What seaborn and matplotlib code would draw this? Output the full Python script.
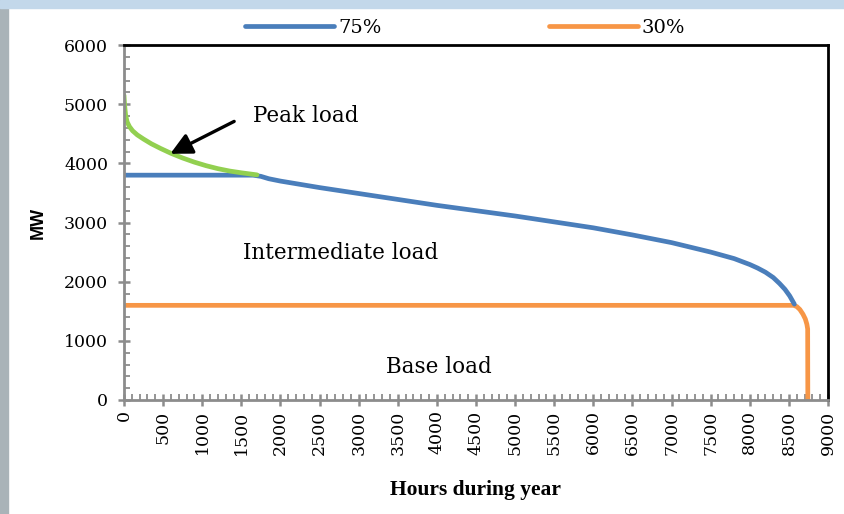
import matplotlib
matplotlib.use('Agg')
import matplotlib.pyplot as plt
import seaborn as sns
from matplotlib.lines import Line2D
from matplotlib.patches import Rectangle
from matplotlib.ticker import MultipleLocator

# load duration curve
green_hours = [0, 8, 20, 40, 70, 110, 170, 250, 350, 470, 600, 750, 900,
               1050, 1200, 1350, 1500, 1700]
green_mw = [5150, 4980, 4820, 4700, 4620, 4550, 4480, 4410, 4330, 4250,
            4170, 4090, 4020, 3960, 3910, 3870, 3840, 3805]

blue_hours = [0, 1650, 1750, 1850, 2000, 2500, 3000, 3500, 4000, 4500, 5000,
              5500, 6000, 6500, 7000, 7500, 7800, 8000, 8100, 8200, 8300,
              8380, 8450, 8510, 8570]
blue_mw = [3800, 3800, 3780, 3740, 3700, 3590, 3490, 3390, 3290, 3200, 3110,
           3010, 2910, 2790, 2660, 2500, 2390, 2290, 2230, 2160, 2070,
           1970, 1870, 1760, 1620]

orange_hours = [0, 8560, 8600, 8640, 8680, 8710, 8730, 8740, 8742]
orange_mw = [1600, 1600, 1580, 1530, 1450, 1370, 1280, 1200, 0]

legend_labels = ['75%', '30%']

sns.set_style('white')
plt.rcParams['font.family'] = ['DejaVu Serif']

fig = plt.figure(figsize=(8.45, 5.14), dpi=100)
fig.patch.set_facecolor('white')
# blurred screenshot border
fig.patches.append(Rectangle((0, 0), 8 / 845, 1, transform=fig.transFigure,
                             color='#a9b3b8', zorder=0))
fig.patches.append(Rectangle((0, 1 - 8 / 514), 1, 8 / 514, transform=fig.transFigure,
                             color='#c3d8ea', zorder=0))

ax = fig.add_axes([124 / 845, 1 - 400 / 514, 704 / 845, 355 / 514])

blue = '#4a7ebb'
orange = '#f79646'
green = '#92d050'

sns.lineplot(x=orange_hours, y=orange_mw, color=orange, lw=3.4, sort=False,
             estimator=None, ax=ax)
sns.lineplot(x=blue_hours, y=blue_mw, color=blue, lw=3.4, sort=False,
             estimator=None, ax=ax)
sns.lineplot(x=green_hours, y=green_mw, color=green, lw=3.4, sort=False,
             estimator=None, ax=ax)

ax.set_xlim(0, 9000)
ax.set_ylim(0, 6000)
ax.xaxis.set_major_locator(MultipleLocator(500))
ax.xaxis.set_minor_locator(MultipleLocator(100))
ax.yaxis.set_major_locator(MultipleLocator(1000))
ax.yaxis.set_minor_locator(MultipleLocator(200))

for side in ['left', 'bottom']:
    ax.spines[side].set_color('#8c8c8c')
    ax.spines[side].set_linewidth(2)
for side in ['top', 'right']:
    ax.spines[side].set_color('black')
    ax.spines[side].set_linewidth(2)

ax.tick_params(which='major', direction='inout', length=9, width=1.8,
               color='#8c8c8c', labelsize=12.5, labelcolor='black',
               left=True, bottom=True)
ax.tick_params(which='minor', direction='in', length=4, width=1.3,
               color='#8c8c8c', left=True, bottom=True)
ax.tick_params(axis='y', which='major', pad=7)
ax.tick_params(axis='x', which='major', pad=3, labelrotation=90)

ax.set_ylabel('MW', fontfamily='Liberation Sans', fontweight='bold', fontsize=13,
              labelpad=12, color='black')
ax.set_xlabel('Hours during year', fontfamily='Liberation Serif', fontweight='bold',
              fontsize=15.5, labelpad=18, color='black')

ax.text(1650, 4800, 'Peak load', fontsize=15.5, va='center', ha='left',
        color='black')
ax.annotate('', xy=(560, 4140), xytext=(1440, 4730),
            arrowprops=dict(arrowstyle='-|>,head_length=1.3,head_width=0.65',
                            color='black', lw=2.4))
ax.text(1520, 2480, 'Intermediate load', fontsize=15.5, va='center', ha='left',
        color='black')
ax.text(4020, 560, 'Base load', fontsize=15.5, va='center', ha='center',
        color='black')

handles = [Line2D([0], [0], color=blue, lw=3.4),
           Line2D([0], [0], color=orange, lw=3.4)]
fig.legend(handles, legend_labels, loc='center', ncol=2,
           bbox_to_anchor=(465 / 845, 1 - 28 / 514), frameon=False,
           fontsize=14, handlelength=4.6, handletextpad=0.2, columnspacing=8.6,
           labelcolor='black')

fig.savefig('out.png', dpi=100)
